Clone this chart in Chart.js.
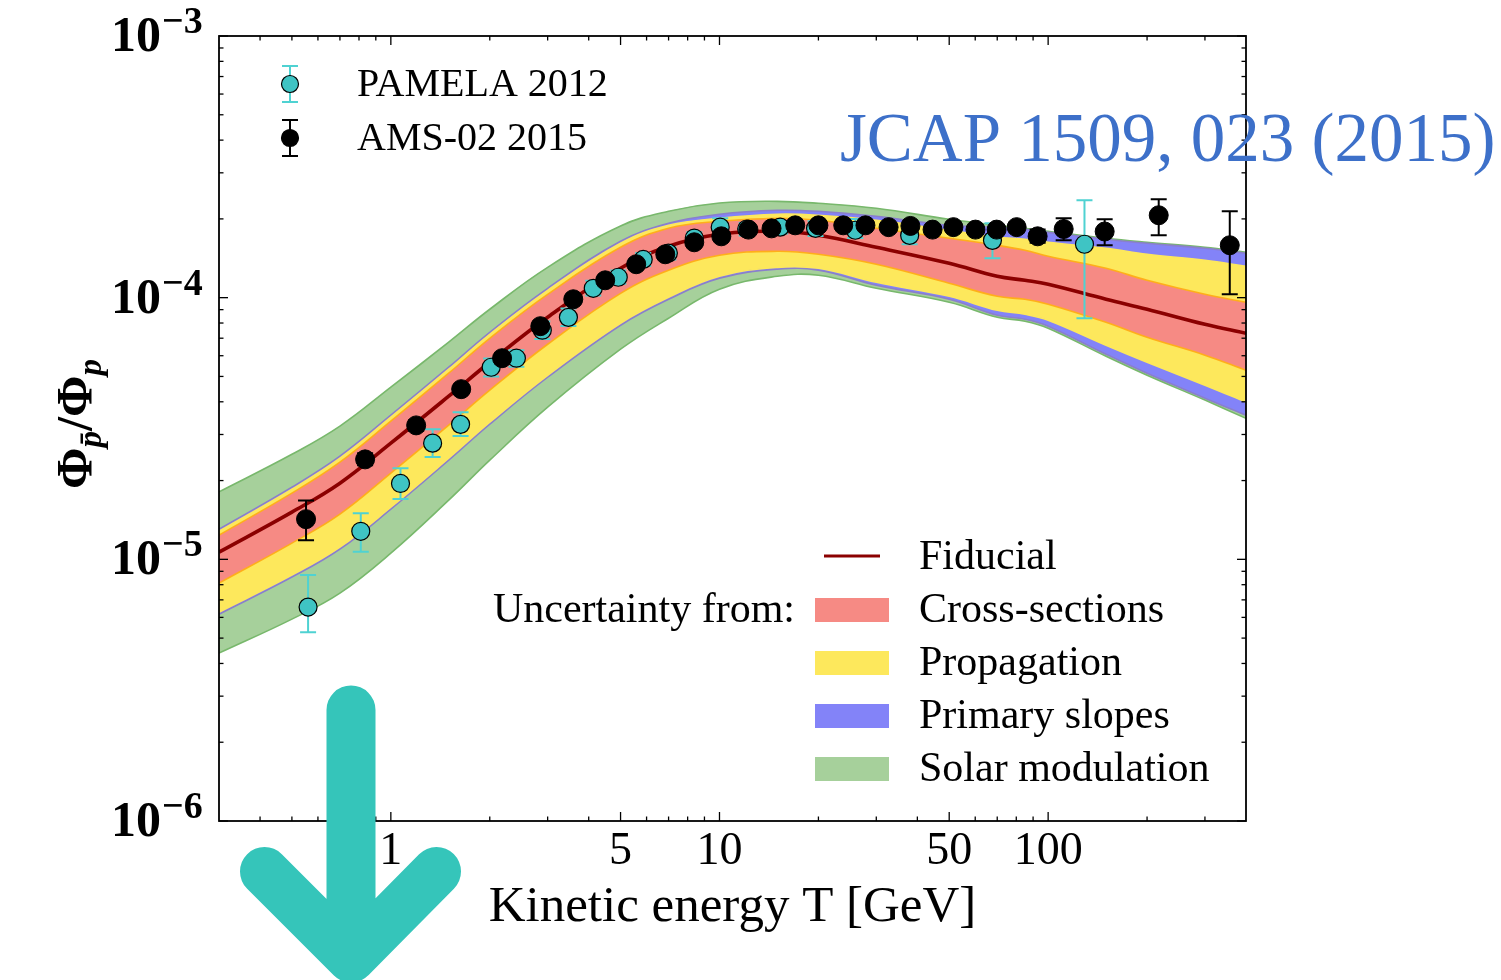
<!DOCTYPE html>
<html>
<head>
<meta charset="utf-8">
<script src="https://cdn.jsdelivr.net/npm/chart.js@4.4.1/dist/chart.umd.min.js"></script>
<style>
  html, body { margin: 0; padding: 0; background: #fff; }
  #wrap { width: 1501px; height: 980px; position: relative; }
</style>
</head>
<body>
<div id="wrap"><canvas id="chart" width="1501" height="980"></canvas></div>
<script>
// Kinetic energy grid (GeV) on which the model curves are tabulated
const energyGrid = [0.3, 0.5, 0.7, 1, 1.5, 2, 3, 5, 7, 10, 15, 20, 30, 50, 70, 85, 100, 150, 200, 300, 400];

// Fiducial antiproton-to-proton ratio
const fiducial = [1.065e-5, 1.515e-5, 1.955e-5, 2.779e-5, 4.201e-5, 5.665e-5, 8.416e-5, 1.295e-4, 1.572e-4, 1.747e-4, 1.793e-4, 1.731e-4, 1.558e-4, 1.353e-4, 1.207e-4, 1.165e-4, 1.125e-4, 9.86e-5, 9.03e-5, 7.91e-5, 7.31e-5];

// Uncertainty bands (upper / lower envelopes)
const crossUpper = [1.237e-5, 1.790e-5, 2.351e-5, 3.372e-5, 5.143e-5, 6.996e-5, 1.030e-4, 1.558e-4, 1.841e-4, 1.958e-4, 2.011e-4, 1.975e-4, 1.841e-4, 1.686e-4, 1.585e-4, 1.517e-4, 1.439e-4, 1.295e-4, 1.165e-4, 1.030e-4, 9.60e-5];
const crossLower = [8.11e-6, 1.153e-5, 1.488e-5, 2.135e-5, 3.255e-5, 4.429e-5, 6.637e-5, 1.039e-4, 1.273e-4, 1.452e-4, 1.504e-4, 1.465e-4, 1.342e-4, 1.135e-4, 1.012e-4, 9.86e-5, 9.44e-5, 8.05e-5, 7.06e-5, 6.03e-5, 5.28e-5];
const propUpper = [1.281e-5, 1.854e-5, 2.435e-5, 3.493e-5, 5.327e-5, 7.247e-5, 1.067e-4, 1.614e-4, 1.890e-4, 2.011e-4, 2.083e-4, 2.064e-4, 1.975e-4, 1.809e-4, 1.701e-4, 1.672e-4, 1.628e-4, 1.544e-4, 1.465e-4, 1.390e-4, 1.318e-4];
const propLower = [6.28e-6, 8.70e-6, 1.113e-5, 1.582e-5, 2.435e-5, 3.342e-5, 5.053e-5, 7.985e-5, 1.003e-4, 1.207e-4, 1.306e-4, 1.295e-4, 1.145e-4, 1.012e-4, 8.95e-5, 8.64e-5, 8.20e-5, 6.58e-5, 5.665e-5, 4.63e-5, 3.99e-5];
const primUpper = [1.304e-5, 1.887e-5, 2.479e-5, 3.554e-5, 5.422e-5, 7.375e-5, 1.086e-4, 1.642e-4, 1.924e-4, 2.083e-4, 2.157e-4, 2.138e-4, 2.046e-4, 1.890e-4, 1.857e-4, 1.825e-4, 1.777e-4, 1.672e-4, 1.614e-4, 1.544e-4, 1.478e-4];
const primLower = [6.17e-6, 8.55e-6, 1.094e-5, 1.555e-5, 2.393e-5, 3.284e-5, 4.966e-5, 7.847e-5, 9.86e-5, 1.186e-4, 1.284e-4, 1.273e-4, 1.115e-4, 9.86e-5, 8.57e-5, 8.27e-5, 7.78e-5, 6.08e-5, 5.143e-5, 4.13e-5, 3.554e-5];
const solarUpper = [1.81e-5, 2.52e-5, 3.23e-5, 4.55e-5, 6.76e-5, 9.03e-5, 1.306e-4, 1.88e-4, 2.14e-4, 2.30e-4, 2.334e-4, 2.294e-4, 2.195e-4, 1.993e-4, 1.890e-4, 1.841e-4, 1.793e-4, 1.686e-4, 1.628e-4, 1.558e-4, 1.491e-4];
const solarLower = [4.38e-6, 5.91e-6, 7.43e-6, 1.056e-5, 1.683e-5, 2.393e-5, 3.814e-5, 6.353e-5, 8.343e-5, 1.077e-4, 1.207e-4, 1.218e-4, 1.086e-4, 9.60e-5, 8.416e-5, 8.13e-5, 7.64e-5, 5.97e-5, 5.053e-5, 4.06e-5, 3.46e-5];

// PAMELA 2012 measurements
const pamelaEnergy = [0.56, 0.81, 1.07, 1.34, 1.63, 2.02, 2.41, 2.89, 3.47, 4.13, 4.92, 5.86, 6.99, 8.38, 10.05, 12.1, 15.3, 19.6, 25.9, 37.9, 67.7, 129];
const pamelaRatio = [6.57e-6, 1.28e-5, 1.95e-5, 2.78e-5, 3.28e-5, 5.42e-5, 5.87e-5, 7.51e-5, 8.41e-5, 1.086e-4, 1.197e-4, 1.40e-4, 1.48e-4, 1.69e-4, 1.86e-4, 1.83e-4, 1.86e-4, 1.84e-4, 1.81e-4, 1.73e-4, 1.656e-4, 1.60e-4];
const pamelaLow = [5.27e-6, 1.07e-5, 1.70e-5, 2.46e-5, 2.96e-5, 5.0e-5, 5.45e-5, 6.95e-5, 7.8e-5, 1.02e-4, 1.13e-4, 1.32e-4, 1.40e-4, 1.59e-4, 1.70e-4, 1.73e-4, 1.76e-4, 1.72e-4, 1.69e-4, 1.60e-4, 1.414e-4, 8.34e-5];
const pamelaHigh = [8.71e-6, 1.50e-5, 2.23e-5, 3.14e-5, 3.65e-5, 5.85e-5, 6.3e-5, 8.1e-5, 9.1e-5, 1.16e-4, 1.27e-4, 1.48e-4, 1.56e-4, 1.78e-4, 2.01e-4, 1.93e-4, 1.96e-4, 1.96e-4, 2.0e-4, 1.90e-4, 1.924e-4, 2.355e-4];

// AMS-02 2015 measurements
const amsEnergy = [0.552, 0.835, 1.194, 1.637, 2.18, 2.85, 3.59, 4.49, 5.58, 6.84, 8.38, 10.13, 12.25, 14.4, 17.0, 20.0, 23.8, 27.8, 32.7, 38.1, 44.5, 51.5, 60.1, 69.7, 80.2, 92.9, 111.5, 148.6, 217, 357];
const amsRatio = [1.424e-5, 2.41e-5, 3.25e-5, 4.47e-5, 5.87e-5, 7.78e-5, 9.86e-5, 1.165e-4, 1.342e-4, 1.465e-4, 1.628e-4, 1.716e-4, 1.82e-4, 1.84e-4, 1.89e-4, 1.89e-4, 1.89e-4, 1.89e-4, 1.86e-4, 1.88e-4, 1.82e-4, 1.86e-4, 1.82e-4, 1.82e-4, 1.86e-4, 1.716e-4, 1.83e-4, 1.79e-4, 2.065e-4, 1.586e-4];
const amsLow = [1.184e-5, 2.29e-5, 3.1e-5, 4.3e-5, 5.62e-5, 7.45e-5, 9.45e-5, 1.12e-4, 1.29e-4, 1.41e-4, 1.565e-4, 1.65e-4, 1.75e-4, 1.77e-4, 1.82e-4, 1.82e-4, 1.82e-4, 1.82e-4, 1.79e-4, 1.81e-4, 1.75e-4, 1.79e-4, 1.75e-4, 1.75e-4, 1.78e-4, 1.62e-4, 1.656e-4, 1.585e-4, 1.731e-4, 1.03e-4];
const amsHigh = [1.68e-5, 2.545e-5, 3.4e-5, 4.65e-5, 6.12e-5, 8.1e-5, 1.027e-4, 1.21e-4, 1.395e-4, 1.525e-4, 1.69e-4, 1.785e-4, 1.89e-4, 1.91e-4, 1.96e-4, 1.96e-4, 1.96e-4, 1.96e-4, 1.93e-4, 1.96e-4, 1.89e-4, 1.94e-4, 1.89e-4, 1.89e-4, 1.94e-4, 1.82e-4, 2.011e-4, 1.993e-4, 2.376e-4, 2.138e-4];

// Axis tick labels
const xTickValues = [1, 5, 10, 50, 100];
const xTickLabels = ['1', '5', '10', '50', '100'];
const yTickValues = [1e-3, 1e-4, 1e-5, 1e-6];
const yTickExponents = ['\u22123', '\u22124', '\u22125', '\u22126'];

// Legend entries
const bandLabels = ['Cross-sections', 'Propagation', 'Primary slopes', 'Solar modulation'];
const dataLabels = ['PAMELA 2012', 'AMS-02 2015'];

const SERIF = '"Liberation Serif", "Times New Roman", serif';
const COLORS = {
  solar: '#a6d09b', solarEdge: '#78b86c',
  prim: '#8383f8', primEdge: '#8a7fcb',
  prop: '#fde85c', propEdge: '#fde85c',
  cross: '#f68a84', crossEdge: '#ffae1a',
  fid: '#8b0000',
  pamela: '#3fc4c4', pamelaBar: '#4fd2d2',
  ams: '#000000',
  note: '#3d70c9',
  arrow: '#35c5ba'
};

function curve(values) { return energyGrid.map((t, i) => ({ x: t, y: values[i] })); }
function points(xs, ys) { return xs.map((t, i) => ({ x: t, y: ys[i] })); }

function band(values, target, fillColor, edgeColor, order) {
  return {
    data: curve(values),
    borderColor: edgeColor,
    borderWidth: 1.6,
    backgroundColor: fillColor,
    pointRadius: 0,
    fill: target === null ? false : target,
    tension: 0.4,
    order: order
  };
}

const datasets = [
  band(solarUpper, 1, COLORS.solar, COLORS.solarEdge, 50),
  band(solarLower, null, COLORS.solar, COLORS.solarEdge, 50),
  band(primUpper, 3, COLORS.prim, COLORS.primEdge, 40),
  band(primLower, null, COLORS.prim, COLORS.primEdge, 40),
  band(propUpper, 5, COLORS.prop, COLORS.propEdge, 30),
  band(propLower, null, COLORS.prop, COLORS.propEdge, 30),
  band(crossUpper, 7, COLORS.cross, COLORS.crossEdge, 20),
  band(crossLower, null, COLORS.cross, COLORS.crossEdge, 20),
  {
    data: curve(fiducial), borderColor: COLORS.fid, borderWidth: 3.6, pointRadius: 0,
    fill: false, tension: 0.4, order: 10
  },
  {
    data: points(pamelaEnergy, pamelaRatio), showLine: false,
    pointRadius: 9, pointBackgroundColor: COLORS.pamela, pointBorderColor: '#000',
    pointBorderWidth: 1.2, order: 5
  },
  {
    data: points(amsEnergy, amsRatio), showLine: false,
    pointRadius: 9.5, pointBackgroundColor: COLORS.ams, pointBorderColor: '#000',
    pointBorderWidth: 1, order: 1
  }
];

const errorBars = {
  9: { lo: pamelaLow, hi: pamelaHigh, xs: pamelaEnergy, color: COLORS.pamelaBar },
  10: { lo: amsLow, hi: amsHigh, xs: amsEnergy, color: '#000' }
};

function drawBar(ctx, x, y1, y2, color) {
  ctx.strokeStyle = color;
  ctx.lineWidth = 2;
  ctx.beginPath();
  ctx.moveTo(x, y1); ctx.lineTo(x, y2);
  ctx.moveTo(x - 8, y1); ctx.lineTo(x + 8, y1);
  ctx.moveTo(x - 8, y2); ctx.lineTo(x + 8, y2);
  ctx.stroke();
}

function line(ctx, x1, y1, x2, y2) {
  ctx.beginPath(); ctx.moveTo(x1, y1); ctx.lineTo(x2, y2); ctx.stroke();
}

const decorations = {
  id: 'decorations',
  beforeDatasetDraw(chart, args) {
    const eb = errorBars[args.index];
    if (!eb) return;
    const { ctx, scales: { x, y } } = chart;
    ctx.save();
    eb.xs.forEach((t, i) => {
      drawBar(ctx, x.getPixelForValue(t), y.getPixelForValue(eb.hi[i]), y.getPixelForValue(eb.lo[i]), eb.color);
    });
    ctx.restore();
  },
  afterDraw(chart) {
    const { ctx, chartArea: a, scales: { x, y } } = chart;
    ctx.save();

    // frame
    ctx.strokeStyle = '#000';
    ctx.lineWidth = 1.8;
    ctx.strokeRect(a.left, a.top, a.right - a.left, a.bottom - a.top);

    // x ticks, drawn inward on bottom and top
    ctx.lineWidth = 1.3;
    const xMinor = [];
    for (let d = 0.1; d <= 100; d *= 10) {
      for (let m = 1; m <= 9; m++) {
        const v = +(m * d).toPrecision(3);
        if (v > 0.3 && v < 400 && xTickValues.indexOf(v) < 0) xMinor.push(v);
      }
    }
    xMinor.forEach(v => {
      const px = x.getPixelForValue(v);
      line(ctx, px, a.bottom, px, a.bottom - 4.5);
      line(ctx, px, a.top, px, a.top + 4.5);
    });
    xTickValues.forEach(v => {
      const px = x.getPixelForValue(v);
      line(ctx, px, a.bottom, px, a.bottom - 9);
      line(ctx, px, a.top, px, a.top + 9);
    });

    // y ticks on left and right
    for (let e = -6; e < -3; e++) {
      for (let m = 2; m <= 9; m++) {
        const py = y.getPixelForValue(m * Math.pow(10, e));
        line(ctx, a.left, py, a.left + 4.5, py);
        line(ctx, a.right, py, a.right - 4.5, py);
      }
    }
    yTickValues.forEach(v => {
      const py = y.getPixelForValue(v);
      line(ctx, a.left, py, a.left + 9, py);
      line(ctx, a.right, py, a.right - 9, py);
    });

    // x tick labels
    ctx.fillStyle = '#000';
    ctx.textAlign = 'center';
    ctx.textBaseline = 'alphabetic';
    ctx.font = '46px ' + SERIF;
    xTickValues.forEach((v, i) => ctx.fillText(xTickLabels[i], x.getPixelForValue(v), a.bottom + 43));

    // y tick labels: 10 with a superscript exponent
    yTickValues.forEach((v, i) => {
      const py = y.getPixelForValue(v);
      ctx.textAlign = 'left';
      ctx.font = 'bold 38px ' + SERIF;
      ctx.fillText(yTickExponents[i], a.left - 57, py - 3);
      ctx.textAlign = 'right';
      ctx.font = 'bold 50px ' + SERIF;
      ctx.fillText('10', a.left - 58, py + 15);
    });

    // axis titles
    ctx.textAlign = 'center';
    ctx.font = '51px ' + SERIF;
    ctx.fillText('Kinetic energy T [GeV]', (a.left + a.right) / 2, a.bottom + 100);

    ctx.save();
    ctx.translate(91, 424);
    ctx.rotate(-Math.PI / 2);
    const parts = [
      { t: '\u03A6', f: 'bold 50px ' + SERIF, dy: 0 },
      { t: 'p\u0304', f: 'italic bold 33px ' + SERIF, dy: 10 },
      { t: '/', f: 'bold 50px ' + SERIF, dy: 0 },
      { t: '\u03A6', f: 'bold 50px ' + SERIF, dy: 0 },
      { t: 'p', f: 'italic bold 33px ' + SERIF, dy: 10 }
    ];
    let total = 0;
    parts.forEach(p => { ctx.font = p.f; p.w = ctx.measureText(p.t).width; total += p.w; });
    let cx = -total / 2;
    ctx.textAlign = 'left';
    parts.forEach(p => { ctx.font = p.f; ctx.fillText(p.t, cx, p.dy); cx += p.w; });
    ctx.restore();

    // data legend (upper left)
    const legendMarks = [
      { y: 84, fill: COLORS.pamela, bar: COLORS.pamelaBar },
      { y: 138, fill: COLORS.ams, bar: '#000' }
    ];
    legendMarks.forEach((m, i) => {
      ctx.save();
      drawBar(ctx, 290, m.y - 18, m.y + 18, m.bar);
      ctx.restore();
      ctx.beginPath();
      ctx.arc(290, m.y, 8.5, 0, Math.PI * 2);
      ctx.fillStyle = m.fill; ctx.fill();
      ctx.lineWidth = 1.2; ctx.strokeStyle = '#000'; ctx.stroke();
      ctx.fillStyle = '#000';
      ctx.font = '40px ' + SERIF;
      ctx.textAlign = 'left';
      ctx.textBaseline = 'middle';
      ctx.fillText(dataLabels[i], 357, m.y + 1);
    });

    // model legend (lower right)
    ctx.strokeStyle = COLORS.fid;
    ctx.lineWidth = 3.2;
    line(ctx, 824, 556, 880, 556);
    const patchColors = [COLORS.cross, COLORS.prop, COLORS.prim, COLORS.solar];
    ctx.font = '42px ' + SERIF;
    ctx.textBaseline = 'middle';
    ctx.fillStyle = '#000';
    ctx.fillText('Fiducial', 919, 558);
    patchColors.forEach((c, i) => {
      const cy = 610 + i * 53;
      ctx.fillStyle = c;
      ctx.fillRect(815, cy - 12, 74, 24);
      ctx.fillStyle = '#000';
      ctx.fillText(bandLabels[i], 919, cy + 1);
    });
    ctx.textAlign = 'right';
    ctx.fillText('Uncertainty from:', 795, 611);

    // journal reference
    ctx.textAlign = 'left';
    ctx.textBaseline = 'alphabetic';
    ctx.fillStyle = COLORS.note;
    ctx.font = '69px ' + SERIF;
    ctx.fillText('JCAP 1509, 023 (2015)', 840, 161);

    // down arrow marker
    ctx.strokeStyle = COLORS.arrow;
    ctx.lineWidth = 49;
    ctx.lineCap = 'round';
    ctx.lineJoin = 'round';
    ctx.beginPath();
    ctx.moveTo(351, 710); ctx.lineTo(351, 958);
    ctx.moveTo(264.5, 871.5); ctx.lineTo(351, 958); ctx.lineTo(436.5, 871.5);
    ctx.stroke();

    ctx.restore();
  }
};

new Chart(document.getElementById('chart'), {
  type: 'line',
  data: { datasets },
  options: {
    responsive: false,
    animation: false,
    devicePixelRatio: 1,
    events: [],
    layout: { padding: { left: 219, top: 36, right: 255, bottom: 159 } },
    scales: {
      x: { type: 'logarithmic', min: 0.3, max: 400, display: false },
      y: { type: 'logarithmic', min: 1e-6, max: 1e-3, display: false }
    },
    plugins: {
      legend: { display: false },
      tooltip: { enabled: false },
      filler: { propagate: false, drawTime: 'beforeDatasetsDraw' }
    }
  },
  plugins: [decorations]
});
</script>
</body>
</html>
